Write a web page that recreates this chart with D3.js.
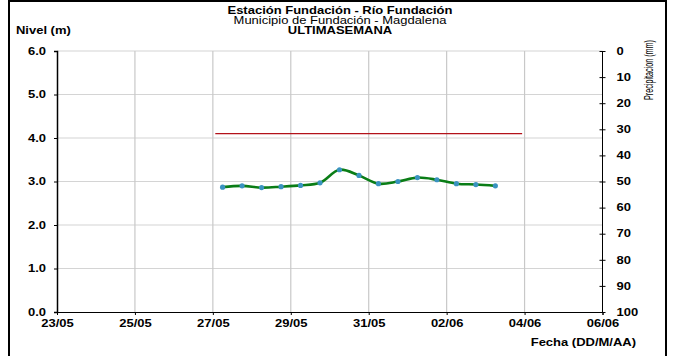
<!DOCTYPE html>
<html>
<head>
<meta charset="utf-8">
<script src="https://cdn.jsdelivr.net/npm/d3@7"></script>
<style>
  body { margin: 0; background: #fff; }
  text { font-family: "Liberation Sans", Arial, sans-serif; }
</style>
</head>
<body>
<div id="chart"></div>
<script>
// datos
const fechas = ["27/05 06:00", "27/05 18:00", "28/05 06:00", "28/05 18:00", "29/05 06:00",
    "29/05 18:00", "30/05 06:00", "30/05 18:00", "31/05 06:00", "31/05 18:00",
    "01/06 06:00", "01/06 18:00", "02/06 06:00", "02/06 18:00", "03/06 06:00"];
const niveles = [2.87, 2.90, 2.86, 2.88, 2.91, 2.97, 3.27, 3.14, 2.95, 3.00, 3.09, 3.04, 2.95, 2.93, 2.90];
const umbralFechas = ["27/05 01:30", "03/06 22:30"];
const umbralNivel = 4.1;
const xTicks = ["23/05", "25/05", "27/05", "29/05", "31/05", "02/06", "04/06", "06/06"];
const nivelTicks = [0, 1, 2, 3, 4, 5, 6];
const precipTicks = [0, 10, 20, 30, 40, 50, 60, 70, 80, 90, 100];

const W = 681, H = 356;
const margin = { top: 51, right: 78.5, bottom: 44, left: 57 },
    width = W - margin.left - margin.right,
    height = H - margin.top - margin.bottom;
const SX = 1.3; // el texto del original sale ensanchado

const parse = s => {
    const [d, t] = s.split(" ");
    const [dd, mm] = d.split("/");
    const [hh, mi] = (t || "00:00").split(":");
    return new Date(2023, +mm - 1, +dd, +hh, +mi);
};

// ensancha un texto sin moverlo de su ancla
const stretch = sel => sel.each(function () {
    const t = d3.select(this);
    const x0 = +(t.attr("x") || 0);
    t.attr("x", x0 / SX).attr("transform", `scale(${SX},1)`);
});

const svg = d3.select("#chart").append("svg")
    .attr("width", W)
    .attr("height", H);

// marco
svg.append("rect")
    .attr("x", 9).attr("y", 1)
    .attr("width", 657).attr("height", H + 10)
    .attr("fill", "none")
    .attr("stroke", "#000")
    .attr("stroke-width", 2);

const g = svg.append("g")
    .attr("transform", `translate(${margin.left},${margin.top})`);

const x = d3.scaleTime()
    .domain([parse("23/05"), parse("06/06")])
    .range([0, width]);
const y = d3.scaleLinear().domain([0, 6]).range([height, 0]);
const yp = d3.scaleLinear().domain([0, 100]).range([0, height]);

// rejilla
g.selectAll(".hgrid")
    .data(nivelTicks.filter(d => d > 0))
    .enter().append("line")
    .attr("x1", 0).attr("x2", width)
    .attr("y1", d => y(d)).attr("y2", d => y(d))
    .attr("stroke", "#d4d4d4").attr("stroke-width", 1.2);

g.selectAll(".vgrid")
    .data(xTicks.slice(1, -1))
    .enter().append("line")
    .attr("x1", d => x(parse(d))).attr("x2", d => x(parse(d)))
    .attr("y1", 0).attr("y2", height)
    .attr("stroke", "#c8c8c8").attr("stroke-width", 1.2);

// eje izquierdo
const yAxis = g.append("g")
    .call(d3.axisLeft(y).tickValues(nivelTicks).tickFormat(d3.format(".1f")).tickSize(3).tickPadding(8));
yAxis.select(".domain").attr("stroke-width", 1.5);
yAxis.selectAll("text")
    .style("font-size", "10px").style("font-weight", "bold")
    .attr("font-family", null).attr("fill", "#000")
    .call(stretch);

// eje x
const xAxis = g.append("g")
    .attr("transform", `translate(0,${height})`)
    .call(d3.axisBottom(x)
        .tickValues(xTicks.map(parse))
        .tickFormat(d3.timeFormat("%d/%m"))
        .tickSize(3).tickPadding(5));
xAxis.selectAll("text")
    .style("font-size", "10px").style("font-weight", "bold")
    .attr("font-family", null).attr("fill", "#000")
    .call(stretch);

// eje derecho (precipitacion)
const pAxis = g.append("g")
    .attr("transform", `translate(${width},0)`)
    .call(d3.axisRight(yp).tickValues(precipTicks).tickSize(3).tickPadding(11));
pAxis.selectAll(".tick line").attr("x1", -3);
pAxis.select(".domain").attr("d", `M0,0V${height}`);
pAxis.selectAll("text")
    .style("font-size", "10px").style("font-weight", "bold")
    .attr("font-family", null).attr("fill", "#000")
    .call(stretch);

// nivel de alerta
g.append("line")
    .attr("x1", x(parse(umbralFechas[0])))
    .attr("x2", x(parse(umbralFechas[1])))
    .attr("y1", y(umbralNivel)).attr("y2", y(umbralNivel))
    .attr("stroke", "#b3121a").attr("stroke-width", 1.2);

// serie de nivel
const serie = fechas.map((f, i) => ({ fecha: parse(f), nivel: niveles[i] }));
const line = d3.line()
    .x(d => x(d.fecha))
    .y(d => y(d.nivel))
    .curve(d3.curveCatmullRom.alpha(0.5));

g.append("path")
    .datum(serie)
    .attr("d", line)
    .attr("fill", "none")
    .attr("stroke", "#0a7d16")
    .attr("stroke-width", 2.6);

g.selectAll(".pt")
    .data(serie)
    .enter().append("circle")
    .attr("cx", d => x(d.fecha))
    .attr("cy", d => y(d.nivel))
    .attr("r", 2.6)
    .attr("fill", "#3a93c0");

// textos
const titulos = [
    { t: "Estación Fundación - Río Fundación", y: 14.5, w: "bold" },
    { t: "Municipio de Fundación - Magdalena", y: 24.5, w: "normal" },
    { t: "ULTIMASEMANA", y: 34.5, w: "bold" }
];
svg.selectAll(".titulo")
    .data(titulos)
    .enter().append("text")
    .attr("x", 340).attr("y", d => d.y)
    .attr("text-anchor", "middle")
    .style("font-size", "10px")
    .style("font-weight", d => d.w)
    .text(d => d.t)
    .call(stretch);

svg.append("text")
    .attr("x", 16).attr("y", 34.5)
    .style("font-size", "10px").style("font-weight", "bold")
    .text("Nivel (m)")
    .call(stretch);

svg.append("text")
    .attr("x", 636).attr("y", 346.5)
    .attr("text-anchor", "end")
    .style("font-size", "10px").style("font-weight", "bold")
    .text("Fecha (DD/M/AA)")
    .call(stretch);

svg.append("text")
    .attr("transform", "translate(653,70) scale(1.65,1) rotate(-90)")
    .attr("text-anchor", "middle")
    .style("font-size", "7.2px")
    .text("Precipitacion (mm)");
</script>
</body>
</html>
